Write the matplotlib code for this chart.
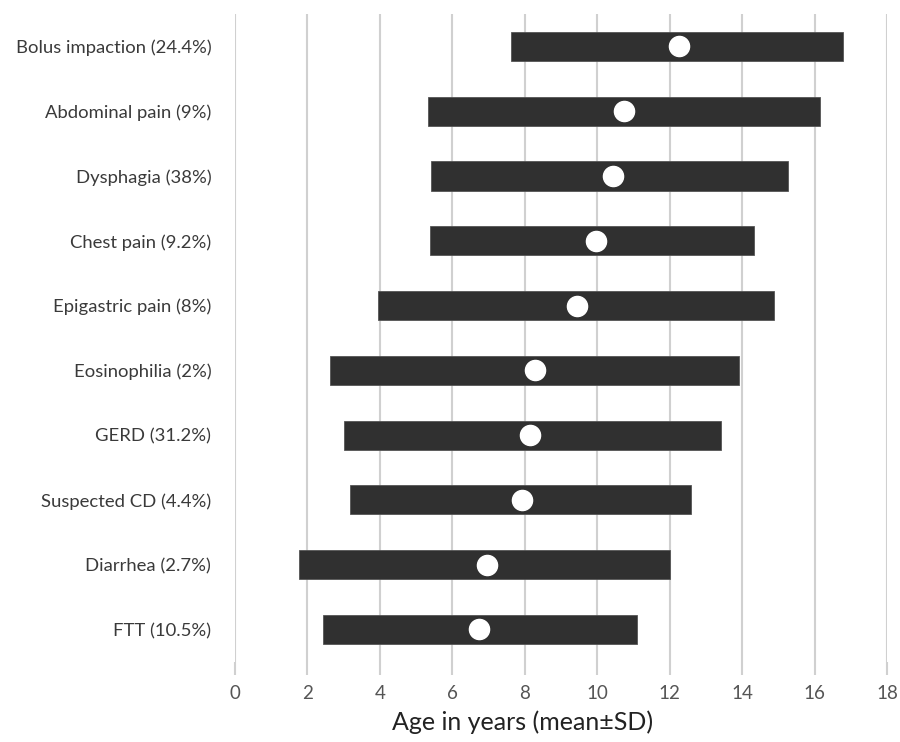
import matplotlib
matplotlib.use("Agg")
from matplotlib import pyplot as plt
import numpy as np

# categories listed bottom to top
labels = ["FTT (10.5%)", "Diarrhea (2.7%)", "Suspected CD (4.4%)", "GERD (31.2%)",
          "Eosinophilia (2%)", "Epigastric pain (8%)", "Chest pain (9.2%)",
          "Dysphagia (38%)", "Abdominal pain (9%)", "Bolus impaction (24.4%)"]
low = [2.44, 1.78, 3.19, 3.00, 2.62, 3.94, 5.39, 5.42, 5.33, 7.61]
high = [11.10, 12.02, 12.59, 13.41, 13.92, 14.88, 14.33, 15.27, 16.16, 16.78]
mean = [6.75, 6.95, 7.92, 8.15, 8.28, 9.44, 9.96, 10.43, 10.74, 12.27]
xticks = [0, 2, 4, 6, 8, 10, 12, 14, 16, 18]

plt.rcParams['font.family'] = ['Lato', 'DejaVu Sans']
fig = plt.figure(figsize=(9, 7.42), dpi=100)
ax = fig.add_axes([0.261, 0.108, 0.7246, 0.873])

y = np.arange(len(labels))
low = np.array(low)
high = np.array(high)
ax.barh(y, high - low, left=low, height=0.45, color="#303030",
        edgecolor="#555555", linewidth=0.6, zorder=3)
ax.plot(mean, y, "o", markersize=14.5, color="white", markeredgecolor="white", zorder=4)

ax.set_xlim(0, 18)
ax.set_ylim(-0.5, len(labels) - 0.5)
ax.set_xticks(xticks)
ax.set_yticks(y)
ax.set_yticklabels(labels, fontsize=13.3, color="#3a3a3a")
ax.tick_params(axis="y", length=0, pad=17)
ax.tick_params(axis="x", length=9, color="#d0d0d0", width=1.5, labelsize=13.5,
               labelcolor="#555555", pad=8)
ax.grid(axis="x", color="#d0d0d0", linewidth=1.5, zorder=0)
ax.set_axisbelow(True)
for s in ax.spines.values():
    s.set_visible(False)
fig.text(523 / 900, 1 - 722 / 742, "Age in years (mean±SD)", fontsize=18,
         color="#222222", ha="center", va="center")

fig.savefig("out.png", dpi=100)
